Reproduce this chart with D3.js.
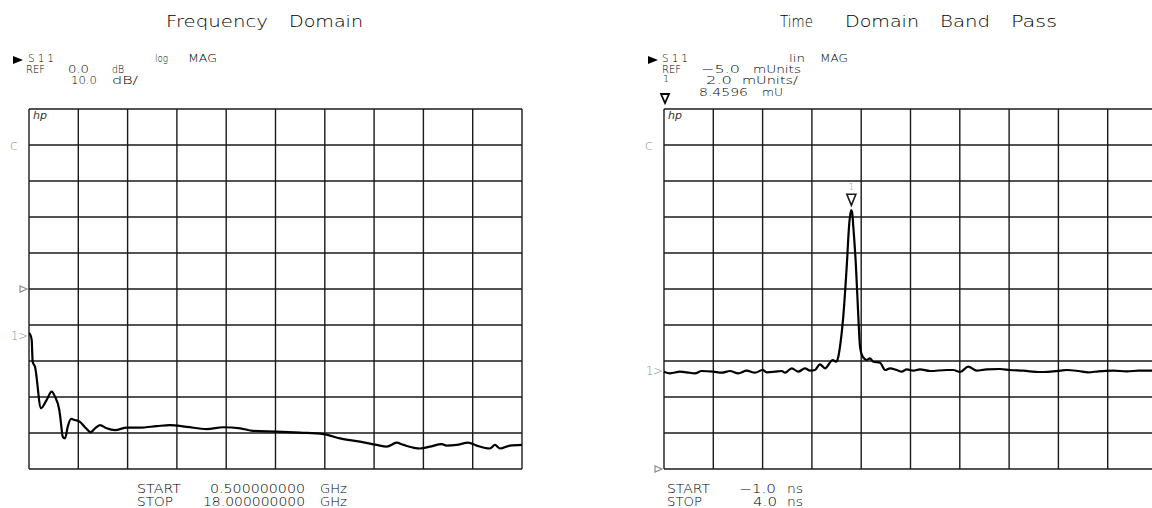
<!DOCTYPE html>
<html>
<head>
<meta charset="utf-8">
<script src="https://cdn.jsdelivr.net/npm/d3@7"></script>
<style>
  html, body { margin: 0; padding: 0; background: #fff; }
  svg { display: block; font-family: "DejaVu Sans", "Liberation Sans", sans-serif; font-weight: 200; }
</style>
</head>
<body>
<svg id="chart" width="1152" height="508"></svg>
<script>
// ---------- DATA ----------
// Frequency domain: S11 log magnitude (dB) vs frequency (GHz)
const freqGHz = [0.5, 0.535, 0.596, 0.63, 0.713, 0.926, 1.128, 1.306, 1.423, 1.576, 1.636, 1.696, 1.778, 1.874, 1.991, 2.133, 2.31, 2.523, 2.69, 2.843, 3.02, 3.258, 3.553, 3.968, 4.44, 5.03, 5.5, 6.1, 6.81, 7.4, 8.0, 8.45, 9.29, 10.12, 10.95, 11.54, 12.25, 12.84, 13.2, 13.55, 13.79, 14.38, 14.73, 15.15, 15.33, 15.68, 16.09, 16.39, 16.86, 17.04, 17.22, 17.57, 18.0];
const s11dB = [-12.3, -12.5, -14.2, -20.2, -21.6, -33.1, -30.8, -28.5, -29.9, -33.6, -37.3, -41.0, -41.5, -38.3, -36.1, -36.4, -36.9, -38.7, -39.8, -38.7, -37.8, -38.7, -39.2, -38.5, -38.5, -38.1, -37.8, -38.3, -38.9, -38.4, -38.7, -39.4, -39.6, -39.9, -40.3, -41.5, -42.4, -43.3, -43.8, -42.7, -43.3, -44.3, -43.8, -43.1, -43.5, -43.3, -42.7, -43.5, -44.3, -43.3, -44.3, -43.5, -43.3];

// Time domain band pass: S11 linear magnitude (mUnits) vs time (ns)
const timeNs = [-1.0, -0.939, -0.838, -0.770, -0.686, -0.618, -0.5, -0.415, -0.331, -0.246, -0.161, -0.077, 0.001, 0.042, 0.126, 0.194, 0.227, 0.295, 0.362, 0.43, 0.481, 0.531, 0.582, 0.633, 0.711, 0.744, 0.768, 0.785, 0.818, 0.853, 0.879, 0.897, 0.907, 0.920, 0.947, 0.971, 0.988, 1.015, 1.056, 1.089, 1.123, 1.191, 1.242, 1.292, 1.36, 1.411, 1.462, 1.528, 1.596, 1.698, 1.867, 1.934, 2.002, 2.086, 2.171, 2.273, 2.408, 2.509, 2.644, 2.813, 3.016, 3.084, 3.205, 3.303, 3.408, 3.557, 3.693, 3.813, 4.0];
const magMU = [0.406, 0.317, 0.406, 0.372, 0.317, 0.444, 0.406, 0.35, 0.444, 0.317, 0.461, 0.35, 0.5, 0.372, 0.406, 0.444, 0.35, 0.594, 0.406, 0.594, 0.461, 0.5, 0.817, 0.594, 1.056, 0.961, 1.239, 1.794, 3.461, 6.239, 8.65, 9.39, 9.29, 8.46, 6.239, 3.461, 1.794, 1.239, 1.056, 1.15, 0.961, 0.906, 0.5, 0.594, 0.5, 0.406, 0.539, 0.461, 0.539, 0.444, 0.5, 0.5, 0.389, 0.683, 0.461, 0.539, 0.556, 0.5, 0.461, 0.389, 0.461, 0.5, 0.444, 0.372, 0.428, 0.461, 0.428, 0.461, 0.47];

// Axis settings / annotations
const freqStartStop = [0.5, 18.0];        // GHz
const freqRef = 0.0, freqScaleDiv = 10.0; // dB, dB/div
const timeStartStop = [-1.0, 4.0];        // ns
const timeRef = -5.0, timeScaleDiv = 2.0; // mUnits (bottom), mUnits/div
const marker1 = [0.9, 9.65];              // ns, mU (drawn position of marker 1)
const marker1Label = "8.4596";
const leftMarkerDb = -13.0;               // "1>" position on the left panel
const rightMarkerMU = 0.42;               // "1>" position on the right panel

// ---------- DRAWING ----------
const svg = d3.select("#chart");
const INK = "#1a1a1a", GREY = "#8a8a8a";

function txt(x, y, s, o = {}) {
  const t = svg.append("text").attr("x", x).attr("y", y).text(s)
    .attr("font-size", o.size || 10.5)
    .attr("fill", o.fill || "#000")
    .attr("text-anchor", o.anchor || "start");
  if (o.len) t.attr("textLength", o.len).attr("lengthAdjust", o.adj || "spacingAndGlyphs");
  if (o.italic) t.attr("font-style", "italic");
  return t;
}

function panel(xs, ys, xTicks, yTicks) {
  const g = svg.append("g");
  const [x0, x1] = xs.range(), [y0, y1] = ys.range();
  g.selectAll("line.v").data(xTicks).join("line")
    .attr("x1", d => xs(d)).attr("x2", d => xs(d))
    .attr("y1", y0).attr("y2", y1)
    .attr("stroke", INK).attr("stroke-width", 1.4);
  g.selectAll("line.h").data(yTicks).join("line")
    .attr("x1", x0).attr("x2", x1)
    .attr("y1", d => ys(d)).attr("y2", d => ys(d))
    .attr("stroke", INK).attr("stroke-width", 1.4);
  return g;
}

// Left panel
const xL = d3.scaleLinear().domain(freqStartStop).range([29, 522]);
const yL = d3.scaleLinear().domain([freqRef - 5 * freqScaleDiv, freqRef + 5 * freqScaleDiv]).range([469, 109]);
const xLt = d3.range(11).map(i => freqStartStop[0] + i * (freqStartStop[1] - freqStartStop[0]) / 10);
const yLt = d3.range(11).map(i => yL.domain()[0] + i * freqScaleDiv);
panel(xL, yL, xLt, yLt);

svg.append("path")
  .datum(freqGHz.map((f, i) => [f, s11dB[i]]))
  .attr("d", d3.line().x(d => xL(d[0])).y(d => yL(d[1])).curve(d3.curveMonotoneX))
  .attr("fill", "none").attr("stroke", "#000").attr("stroke-width", 2.2)
  .attr("stroke-linejoin", "round");

// Right panel
const xR = d3.scaleLinear().domain(timeStartStop).range([664, 1157]);
const yR = d3.scaleLinear().domain([timeRef, timeRef + 10 * timeScaleDiv]).range([469, 109]);
const xRt = d3.range(11).map(i => timeStartStop[0] + i * (timeStartStop[1] - timeStartStop[0]) / 10);
const yRt = d3.range(11).map(i => timeRef + i * timeScaleDiv);
panel(xR, yR, xRt, yRt);

svg.append("path")
  .datum(timeNs.map((t, i) => [t, magMU[i]]))
  .attr("d", d3.line().x(d => xR(d[0])).y(d => yR(d[1])).curve(d3.curveMonotoneX))
  .attr("fill", "none").attr("stroke", "#000").attr("stroke-width", 2.2)
  .attr("stroke-linejoin", "round");

// Marker 1 on the peak
{
  const mx = xR(marker1[0]), my = yR(marker1[1]);
  svg.append("path")
    .attr("d", `M${mx - 4.5},${my - 11} L${mx + 4.5},${my - 11} L${mx},${my} Z`)
    .attr("fill", "#fff").attr("stroke", INK).attr("stroke-width", 1.6);
  txt(mx, my - 15, "1", { size: 8, fill: GREY, anchor: "middle" });
}

// Titles
const T = 16;
txt(166, 27, "Frequency", { size: T, len: 102 });
txt(289, 27, "Domain", { size: T, len: 74 });
txt(780, 27, "Time", { size: T, len: 33 });
txt(845, 27, "Domain", { size: T, len: 74 });
txt(940, 27, "Band", { size: T, len: 50 });
txt(1011, 27, "Pass", { size: T, len: 46 });

// Left header
svg.append("path").attr("d", "M13,56 L23,60 L13,64 Z").attr("fill", "#000");
txt(28, 61.5, "S11", { len: 26, adj: "spacing" });
txt(155, 62, "log", { len: 13 });
txt(188, 62, "MAG", { len: 29 });
txt(26, 72.5, "REF", { len: 19 });
txt(68, 72.5, "0.0", { len: 21 });
txt(112, 72.5, "dB", { len: 12 });
txt(71, 83.5, "10.0", { len: 26 });
txt(112, 83.5, "dB/", { len: 26 });

// Right header
svg.append("path").attr("d", "M648,56 L658,60 L648,64 Z").attr("fill", "#000");
txt(662, 61.5, "S11", { len: 26, adj: "spacing" });
txt(789, 62, "lin", { len: 16 });
txt(820, 62, "MAG", { len: 28 });
txt(662, 72.5, "REF", { len: 19 });
txt(701, 72.5, "\u22125.0", { len: 39 });
txt(753, 72.5, "mUnits", { len: 48 });
txt(663, 82, "1", { size: 9.5 });
txt(706, 83.5, "2.0", { len: 26 });
txt(742, 83.5, "mUnits/", { len: 56 });
svg.append("path").attr("d", "M661,94 L669,94 L665,103 Z")
  .attr("fill", "none").attr("stroke", "#000").attr("stroke-width", 1.8);
txt(699, 96, marker1Label, { len: 49 });
txt(762, 96, "mU", { len: 21 });

// "hp" logos and "C" labels
txt(33, 119, "hp", { size: 11, italic: true, fill: "#333" });
txt(668, 119, "hp", { size: 11, italic: true, fill: "#333" });
txt(10, 150, "C", { size: 11, fill: GREY });
txt(645, 150, "C", { size: 11, fill: GREY });

// Left-edge markers
function refTri(x, y) {
  svg.append("path").attr("d", `M${x - 7},${y - 3} L${x},${y} L${x - 7},${y + 3} Z`)
    .attr("fill", "none").attr("stroke", GREY).attr("stroke-width", 1.2);
}
refTri(27, yL(freqRef));
refTri(662, yR(timeRef));
txt(28, yL(leftMarkerDb) + 4, "1>", { size: 11.5, fill: GREY, anchor: "end" });
txt(663, yR(rightMarkerMU) + 4, "1>", { size: 11.5, fill: GREY, anchor: "end" });

// Bottom start/stop
const B = 12;
txt(137, 493, "START", { size: B, len: 44 });
txt(137, 506, "STOP", { size: B, len: 36 });
txt(210, 493, "0.500000000", { size: B, len: 95 });
txt(203, 506, "18.000000000", { size: B, len: 102 });
txt(320, 493, "GHz", { size: B, len: 27 });
txt(320, 506, "GHz", { size: B, len: 27 });

txt(667, 493, "START", { size: B, len: 43 });
txt(667, 506, "STOP", { size: B, len: 35 });
txt(739, 493, "\u22121.0", { size: B, len: 37 });
txt(753, 506, "4.0", { size: B, len: 24 });
txt(787, 493, "ns", { size: B, len: 16 });
txt(787, 506, "ns", { size: B, len: 16 });
</script>
</body>
</html>
